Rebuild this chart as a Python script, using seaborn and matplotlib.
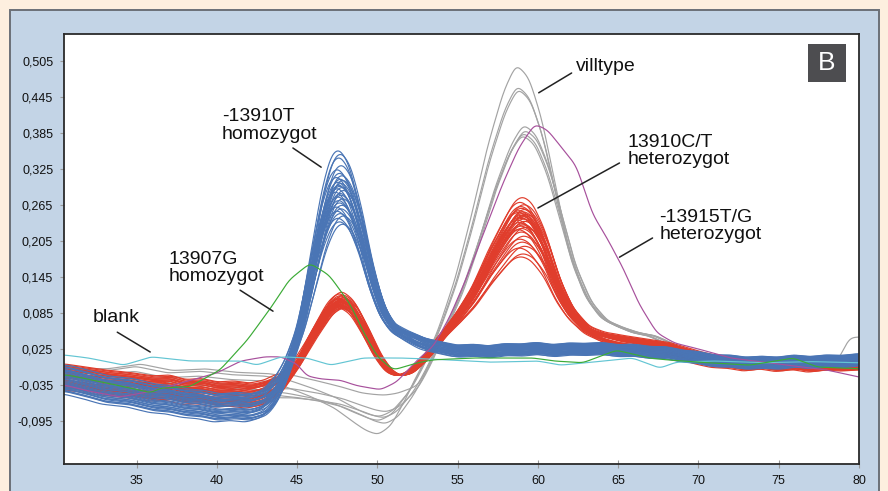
import numpy as np
import pandas as pd
import matplotlib
matplotlib.use("Agg")
import matplotlib.pyplot as plt
from matplotlib.patches import Rectangle
import seaborn as sns

# ---------------- data ----------------
x_ticks = [35, 40, 45, 50, 55, 60, 65, 70, 75, 80]
y_ticks = [-0.095, -0.035, 0.025, 0.085, 0.145, 0.205, 0.265, 0.325, 0.385, 0.445, 0.505]
y_tick_labels = ["-0,095", "-0,035", "0,025", "0,085", "0,145", "0,205",
                 "0,265", "0,325", "0,385", "0,445", "0,505"]

# -13910T homozygot (blue): typical curve
blue_x = [30.5, 32, 33, 34.5, 36, 37, 38, 39, 40, 41, 42, 43, 43.8, 44.5, 45.2, 45.9, 46.6,
          47.2, 47.7, 48.3, 49.0, 49.6, 50.3, 51.0, 52.0, 53.0, 54.0, 55, 56, 57, 58, 59,
          60, 61, 62, 63, 64, 65, 66, 67, 68, 69, 70, 71, 72, 73, 74, 75, 76, 77, 78, 79, 80]
blue_y = [-0.024, -0.034, -0.042, -0.046, -0.056, -0.058, -0.064, -0.066, -0.072, -0.069,
          -0.072, -0.064, -0.040, 0.000, 0.060, 0.150, 0.240, 0.290, 0.300, 0.280, 0.220,
          0.150, 0.090, 0.060, 0.045, 0.033, 0.027, 0.021, 0.023, 0.020, 0.024, 0.023,
          0.026, 0.022, 0.025, 0.024, 0.026, 0.022, 0.023, 0.019, 0.019, 0.013, 0.011,
          0.005, 0.005, 0.001, 0.003, 0.001, 0.005, 0.002, 0.005, 0.004, 0.007]
blue_peak = [0.360, 0.354, 0.348, 0.335, 0.328, 0.322, 0.318, 0.315, 0.312, 0.310, 0.307,
             0.305, 0.302, 0.300, 0.298, 0.296, 0.293, 0.290, 0.288, 0.285, 0.282, 0.279,
             0.276, 0.272, 0.268, 0.265, 0.262, 0.258, 0.254, 0.250, 0.246, 0.240, 0.236]
blue_shift = [-0.10, 0.05, -0.05, 0.10, -0.15, 0.00, 0.15, -0.20, 0.05, 0.20, -0.10, 0.10,
              -0.05, 0.00, 0.15, -0.15, 0.25, -0.25, 0.05, 0.10, -0.10, 0.20, -0.05, 0.00,
              0.15, -0.20, 0.10, -0.15, 0.05, 0.25, -0.10, 0.00, 0.20]
blue_off_left = [-0.010, 0.015, -0.020, 0.005, 0.020, -0.005, 0.010, -0.025, 0.000, 0.012,
                 -0.015, 0.018, -0.008, 0.004, -0.018, 0.008, 0.022, -0.012, 0.002, -0.022,
                 0.014, -0.004, 0.010, -0.016, 0.006, 0.016, -0.010, 0.000, -0.020, 0.012,
                 -0.006, 0.020, -0.014]
blue_off_right = [0.004, -0.006, 0.008, -0.002, 0.010, -0.008, 0.002, 0.006, -0.010, 0.000,
                  0.007, -0.004, 0.009, -0.007, 0.003, -0.001, 0.005, -0.009, 0.008, 0.001,
                  -0.005, 0.006, -0.003, 0.010, -0.008, 0.002, 0.004, -0.006, 0.007, -0.002,
                  0.000, -0.004, 0.005]

# 13910C/T heterozygot (red): typical curve
red_x = [30.5, 32, 33, 34.5, 36, 37, 38, 39, 40, 41, 42, 43, 44, 45, 46, 47, 47.7, 48.5,
         49.3, 50.0, 50.7, 51.3, 52.0, 53, 54, 55, 56, 57, 58, 58.5, 59.0, 59.6, 60.4, 61.2,
         62, 63, 64, 65, 66, 67, 68, 69, 70, 71, 72, 73, 74, 75, 76, 77, 78, 79, 80]
red_y = [-0.022, -0.028, -0.032, -0.036, -0.042, -0.040, -0.048, -0.046, -0.052, -0.050,
         -0.054, -0.048, -0.032, 0.000, 0.050, 0.095, 0.110, 0.095, 0.055, 0.015, -0.012,
         -0.020, -0.015, 0.010, 0.045, 0.080, 0.120, 0.175, 0.222, 0.243, 0.250, 0.240,
         0.200, 0.135, 0.090, 0.058, 0.045, 0.038, 0.034, 0.030, 0.026, 0.018, 0.010,
         0.004, 0.003, -0.002, 0.002, -0.003, 0.001, -0.004, 0.000, -0.002, 0.000]
red_peak1 = [0.123, 0.120, 0.118, 0.117, 0.115, 0.114, 0.113, 0.112, 0.111, 0.110, 0.110,
             0.109, 0.108, 0.107, 0.106, 0.105, 0.104, 0.103, 0.102, 0.101, 0.100, 0.099,
             0.098, 0.097, 0.096, 0.095, 0.112, 0.108, 0.104, 0.100, 0.106, 0.110, 0.103,
             0.098]
red_peak2 = [0.280, 0.272, 0.268, 0.265, 0.262, 0.260, 0.258, 0.256, 0.255, 0.253, 0.252,
             0.250, 0.248, 0.247, 0.245, 0.244, 0.242, 0.240, 0.238, 0.236, 0.234, 0.232,
             0.230, 0.226, 0.222, 0.215, 0.210, 0.205, 0.198, 0.195, 0.185, 0.180, 0.228,
             0.250]
red_shift = [0.05, -0.10, 0.15, -0.05, 0.00, 0.20, -0.15, 0.10, -0.20, 0.05, 0.25, -0.05,
             0.10, -0.10, 0.00, 0.15, -0.25, 0.20, -0.15, 0.05, 0.10, -0.05, 0.25, -0.20,
             0.00, 0.15, -0.10, 0.05, 0.20, -0.15, 0.10, -0.05, 0.00, 0.15]
red_off_left = [0.012, -0.008, 0.018, -0.015, 0.004, 0.020, -0.004, 0.008, -0.020, 0.014,
                -0.010, 0.002, 0.016, -0.012, 0.006, -0.018, 0.010, 0.000, -0.006, 0.022,
                -0.014, 0.012, -0.002, 0.006, -0.016, 0.018, -0.008, 0.004, 0.014, -0.010,
                0.008, -0.004, 0.016, -0.012]
red_off_right = [0.005, -0.004, 0.008, -0.008, 0.002, 0.010, -0.006, 0.004, -0.010, 0.006,
                 0.000, -0.002, 0.007, -0.005, 0.003, -0.009, 0.005, 0.001, -0.003, 0.009,
                 -0.007, 0.004, -0.001, 0.006, -0.004, 0.008, -0.006, 0.002, 0.005, -0.008,
                 0.003, -0.002, 0.007, -0.005]

# villtype (grey): typical curve
gray_x = [30.5, 33, 35, 37, 39, 41, 43, 44.5, 46, 47.5, 48.5, 49.5, 50.2, 51, 52, 53, 54,
          55, 56, 57, 58, 58.8, 59.6, 60.4, 61.2, 62, 63, 64, 65, 66, 67, 68, 69, 70, 72,
          74, 76, 78, 80]
gray_y = [-0.030, -0.030, -0.022, -0.033, -0.030, -0.036, -0.038, -0.045, -0.055, -0.068,
          -0.082, -0.095, -0.100, -0.088, -0.050, 0.000, 0.060, 0.130, 0.220, 0.320, 0.400,
          0.440, 0.420, 0.360, 0.270, 0.180, 0.110, 0.075, 0.062, 0.052, 0.047, 0.035,
          0.020, 0.012, 0.006, 0.000, 0.003, 0.000, 0.005]
gray_peak = [0.500, 0.465, 0.460, 0.400, 0.392, 0.387, 0.383]
gray_trough = [-0.118, -0.095, -0.088, -0.100, -0.080, -0.052, -0.090]
gray_shift = [-0.15, -0.10, -0.05, 0.30, 0.35, 0.25, 0.20]
gray_off_left = [0.010, -0.005, 0.018, -0.012, 0.000, 0.022, -0.015]
gray_end = [0.0, 0.0, 0.040, 0.0, 0.0, 0.0, 0.0]

# -13915T/G heterozygot (magenta)
mag_x = [30.5, 32, 34, 36, 38, 40, 41.5, 43, 44, 45, 45.6, 46.5, 47.7, 48.7, 50.2, 51.2,
         52.5, 53.5, 54.5, 55.5, 56.5, 57.8, 58.8, 59.8, 60.6, 61.5, 62.4, 63.4, 64.3,
         65.3, 66.3, 67.4, 68.5, 70, 72, 75, 78, 80]
mag_y = [-0.035, -0.045, -0.055, -0.045, -0.030, -0.015, 0.005, 0.012, 0.012, 0.000,
         -0.020, -0.025, -0.027, -0.036, -0.043, -0.030, 0.007, 0.030, 0.078, 0.140,
         0.210, 0.300, 0.360, 0.400, 0.390, 0.360, 0.330, 0.250, 0.210, 0.160, 0.100,
         0.052, 0.035, 0.025, 0.010, 0.000, -0.010, -0.022]

# 13907G homozygot (green)
green_x = [30.5, 31, 33.2, 35.9, 36.5, 38.3, 40.2, 41.9, 43.4, 44.5, 45.8, 47, 48.3, 49.2,
           50, 51, 52.5, 53.5, 56, 59.7, 61, 62.8, 64.9, 66.9, 68, 70, 73.2, 75.9, 77.4, 80]
green_y = [-0.018, -0.020, -0.032, -0.048, -0.040, -0.038, -0.010, 0.040, 0.095, 0.140,
           0.168, 0.148, 0.100, 0.050, 0.012, -0.010, 0.002, 0.007, 0.010, 0.010, 0.005,
           0.002, 0.023, 0.010, 0.007, 0.003, -0.002, 0.010, -0.005, -0.008]

# blank (cyan)
cyan_x = [30.5, 32, 34.2, 35.9, 38.3, 41.5, 42.5, 44, 45.6, 47.1, 49.1, 51.4, 53.5, 57, 60,
          61.4, 63, 65.9, 67.6, 68.6, 71, 74, 77, 80]
cyan_y = [0.015, 0.010, -0.002, 0.012, 0.005, 0.005, -0.002, 0.012, 0.010, -0.002, 0.010,
          0.010, 0.008, 0.003, 0.005, -0.002, 0.002, 0.010, -0.007, 0.003, 0.005, 0.002,
          0.004, 0.002]

group_names = ["villtype", "13910C/T", "-13910T", "-13915T/G", "blank", "13907G"]
group_colors = ["#a3a3a3", "#e03d2c", "#4a75b5", "#a7509c", "#63c5d3", "#3bab36"]

# annotations: text, text position, pointer start, pointer end (data units)
annotations = [
    ("blank", (32.29, 0.078), (33.8, 0.053), (35.85, 0.020)),
    ("13907G\nhomozygot", (36.97, 0.160), (41.45, 0.123), (43.5, 0.088)),
    ("-13910T\nhomozygot", (40.31, 0.398), (44.74, 0.360), (46.5, 0.328)),
    ("villtype", (62.39, 0.495), (62.1, 0.485), (60.05, 0.452)),
    ("13910C/T\nheterozygot", (65.56, 0.355), (65.08, 0.335), (60.0, 0.260)),
    ("-13915T/G\nheterozygot", (67.56, 0.230), (67.14, 0.210), (65.08, 0.178)),
]

# ---------------- build curves ----------------
GRID = np.arange(30.5, 80.0001, 0.05)


def smooth(y, sigma=0.2, step=0.05):
    n = int(4 * sigma / step)
    k = np.exp(-0.5 * (np.arange(-n, n + 1) * step / sigma) ** 2)
    k /= k.sum()
    yp = np.concatenate([np.full(n, y[0]), y, np.full(n, y[-1])])
    return np.convolve(yp, k, mode="valid")


def ramp(x, a, b):
    return np.clip((x - a) / (b - a), 0, 1)


rows = []


def add(group, cid, y):
    rows.append(pd.DataFrame({"x": GRID, "y": smooth(y), "group": group, "curve": cid}))


# grey
for i in range(len(gray_peak)):
    xs = GRID - gray_shift[i]
    b = np.interp(xs, gray_x, gray_y)
    bp = np.where((xs > 52) & (xs < 67), np.clip(b - 0.05, 0, None) / (0.44 - 0.05), 0)
    bt = np.where((xs > 44) & (xs < 53.5), np.clip(-0.035 - b, 0, None) / (0.100 - 0.035), 0)
    y = b + (gray_peak[i] - 0.44) * bp + (gray_trough[i] + 0.100) * bt
    y = y + gray_off_left[i] * (1 - ramp(GRID, 44, 49))
    y = y + gray_end[i] * ramp(GRID, 78.6, 79.4)
    add("villtype", f"g{i}", y)

# red
for i in range(len(red_peak1)):
    xs = GRID - red_shift[i]
    b = np.interp(xs, red_x, red_y)
    b1 = np.where((xs > 44) & (xs < 50.5), np.clip(b, 0, None) / 0.110, 0)
    b2 = np.where((xs > 52) & (xs < 66), np.clip(b - 0.04, 0, None) / (0.25 - 0.04), 0)
    y = b + (red_peak1[i] - 0.110) * b1 + (red_peak2[i] - 0.25) * b2
    y = y + red_off_left[i] * (1 - ramp(GRID, 43.5, 45.5)) + red_off_right[i] * ramp(GRID, 62, 65)
    add("13910C/T", f"r{i}", y)

# blue
for i in range(len(blue_peak)):
    xs = GRID - blue_shift[i]
    b = np.interp(xs, blue_x, blue_y)
    bb = np.where((xs > 43) & (xs < 56), np.clip(b - 0.025, 0, None) / (0.30 - 0.025), 0)
    y = b + (blue_peak[i] - 0.30) * bb
    y = y + blue_off_left[i] * (1 - ramp(GRID, 43.5, 45.5)) + blue_off_right[i] * ramp(GRID, 50, 52.5)
    add("-13910T", f"b{i}", y)

add("-13915T/G", "m0", np.interp(GRID, mag_x, mag_y))
add("blank", "c0", np.interp(GRID, cyan_x, cyan_y))
add("13907G", "gr0", np.interp(GRID, green_x, green_y))

df = pd.concat(rows, ignore_index=True)

# ---------------- draw ----------------
sns.set_theme(style="white")
plt.rcParams["font.family"] = ["Liberation Sans", "DejaVu Sans"]

fig = plt.figure(figsize=(8.88, 4.91), dpi=100, facecolor="#fdefdf")
fig.patches.append(Rectangle((10 / 888, -0.05), 869 / 888, 1 - 10 / 491 + 0.05,
                             transform=fig.transFigure, facecolor="#c3d4e6",
                             edgecolor="#6b7078", lw=1.4, zorder=-5))

ax = fig.add_axes([64.3 / 888, 1 - 464 / 491, (859 - 64.3) / 888, (464 - 34.3) / 491])
ax.set_zorder(1)
ax.set_facecolor("white")

sns.lineplot(data=df, x="x", y="y", hue="group", units="curve", estimator=None,
             hue_order=group_names, palette=dict(zip(group_names, group_colors)),
             linewidth=0.85, legend=False, sort=False, ax=ax)

ax.set_xlim(30.5, 80.0)
ax.set_ylim(-0.1667, 0.5495)
ax.set_xticks(x_ticks)
ax.set_xticklabels([str(v) for v in x_ticks])
ax.set_yticks(y_ticks)
ax.set_yticklabels(y_tick_labels)
ax.set_xlabel("")
ax.set_ylabel("")
ax.tick_params(axis="y", direction="out", length=3, width=0.8, color="#999999",
               labelsize=9, pad=5, labelcolor="#111111", left=True)
ax.tick_params(axis="x", direction="inout", length=6, width=0.8, color="#999999",
               labelsize=9, pad=5, labelcolor="#111111", bottom=True)
for s in ax.spines.values():
    s.set_visible(True)
    s.set_color("#2a2a2a")
    s.set_linewidth(1.3)

for text, tpos, p0, p1 in annotations:
    ax.text(tpos[0], tpos[1], text, fontsize=14, ha="left", va="center",
            linespacing=1.05, color="#111111", zorder=10)
    ax.annotate("", xy=p1, xytext=p0,
                arrowprops=dict(arrowstyle="-", lw=1.1, color="#222222",
                                shrinkA=0, shrinkB=0), zorder=10)

fig.patches.append(Rectangle((808 / 888, 1 - 82 / 491), 38 / 888, 38 / 491,
                             transform=fig.transFigure, facecolor="#4d4d50",
                             edgecolor="none", zorder=5))
fig.text(827 / 888, 1 - 63 / 491, "B", color="white", fontsize=19,
         ha="center", va="center", zorder=6)

fig.savefig("out.png", dpi=100, facecolor=fig.get_facecolor())
